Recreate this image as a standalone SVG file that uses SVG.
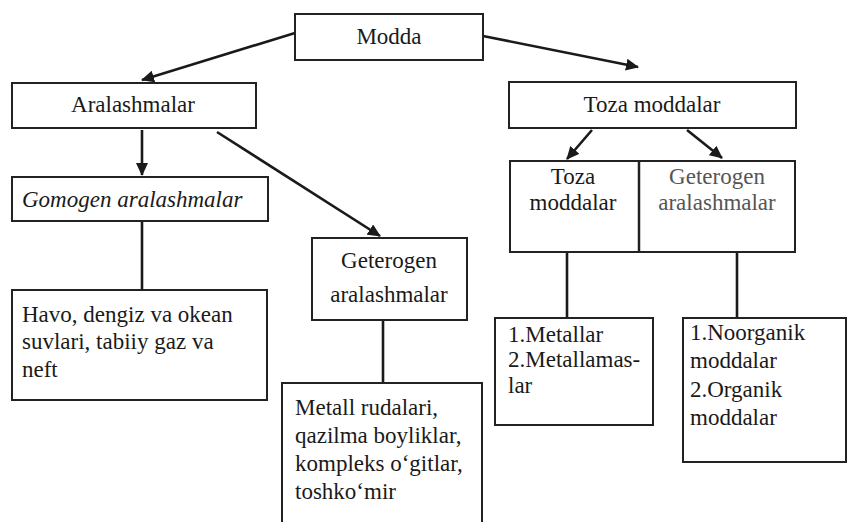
<svg xmlns="http://www.w3.org/2000/svg" width="849" height="522" viewBox="0 0 849 522">
<defs>
<marker id="ah" markerUnits="userSpaceOnUse" markerWidth="14" markerHeight="12" refX="12" refY="6" orient="auto">
<path d="M0,0 L13,6 L0,12 Z" fill="#1a1a1a"/>
</marker>
<style>
.box{fill:#fff;stroke:#222;stroke-width:2}
.t{font-size:23px;fill:#1a1a1a}
.c{text-anchor:middle}
.g{fill:#555}
.con{stroke:#1a1a1a;stroke-width:2.6;fill:none}
.arr{marker-end:url(#ah)}
</style>
</defs>
<rect width="849" height="522" fill="#fff"/>
<g id="connectors">
<line class="con arr" x1="295" y1="33" x2="142" y2="80"/>
<line class="con arr" x1="483" y1="36" x2="638" y2="67"/>
<line class="con arr" x1="142" y1="130" x2="142" y2="175"/>
<line class="con arr" x1="217" y1="132" x2="380" y2="236"/>
<line class="con arr" x1="592" y1="130" x2="567" y2="159"/>
<line class="con arr" x1="687" y1="130" x2="722" y2="158"/>
<line class="con" x1="142" y1="221" x2="142" y2="290"/>
<line class="con" x1="383" y1="320" x2="383" y2="383"/>
<line class="con" x1="567" y1="252" x2="567" y2="318"/>
<line class="con" x1="737" y1="252" x2="737" y2="318"/>
</g>
<g font-family="'Liberation Serif', serif">
<g id="modda">
<rect class="box" x="295" y="14" width="188" height="46"/>
<text class="t c" x="389" y="44">Modda</text>
</g>
<g id="aralashmalar">
<rect class="box" x="12" y="83" width="244" height="45"/>
<text class="t c" x="133" y="112">Aralashmalar</text>
</g>
<g id="toza-moddalar">
<rect class="box" x="509" y="82" width="287" height="46"/>
<text class="t c" x="652" y="112">Toza moddalar</text>
</g>
<g id="gomogen">
<rect class="box" x="12" y="177" width="256" height="44"/>
<text class="t" x="22" y="207" font-style="italic">Gomogen aralashmalar</text>
</g>
<g id="havo">
<rect class="box" x="12" y="290" width="255" height="110"/>
<text class="t" x="22" y="322">Havo, dengiz va okean</text>
<text class="t" x="22" y="349">suvlari, tabiiy gaz va</text>
<text class="t" x="22" y="377">neft</text>
</g>
<g id="geterogen">
<rect class="box" x="312" y="238" width="155" height="82"/>
<text class="t c" x="389" y="268">Geterogen</text>
<text class="t c" x="389" y="302">aralashmalar</text>
</g>
<g id="metall-rudalari">
<rect class="box" x="282" y="383" width="200" height="145"/>
<text class="t" x="295" y="415">Metall rudalari,</text>
<text class="t" x="295" y="443">qazilma boyliklar,</text>
<text class="t" x="295" y="471">kompleks o‘gitlar,</text>
<text class="t" x="295" y="499">toshko‘mir</text>
</g>
<g id="toza-split">
<rect class="box" x="510" y="161" width="285" height="91"/>
<line x1="639" y1="161" x2="639" y2="252" stroke="#222" stroke-width="2.5"/>
<text class="t c" x="573" y="184">Toza</text>
<text class="t c" x="573" y="210">moddalar</text>
<text class="t c g" x="717" y="184">Geterogen</text>
<text class="t c g" x="717" y="210">aralashmalar</text>
</g>
<g id="metallar">
<rect class="box" x="495" y="318" width="158" height="107"/>
<text class="t" x="508" y="342">1.Metallar</text>
<text class="t" x="508" y="367">2.Metallamas-</text>
<text class="t" x="508" y="393">lar</text>
</g>
<g id="noorganik">
<rect class="box" x="683" y="318" width="163" height="144"/>
<text class="t" x="690" y="340">1.Noorganik</text>
<text class="t" x="690" y="368">moddalar</text>
<text class="t" x="690" y="397">2.Organik</text>
<text class="t" x="690" y="425">moddalar</text>
</g>
</g>
</svg>
